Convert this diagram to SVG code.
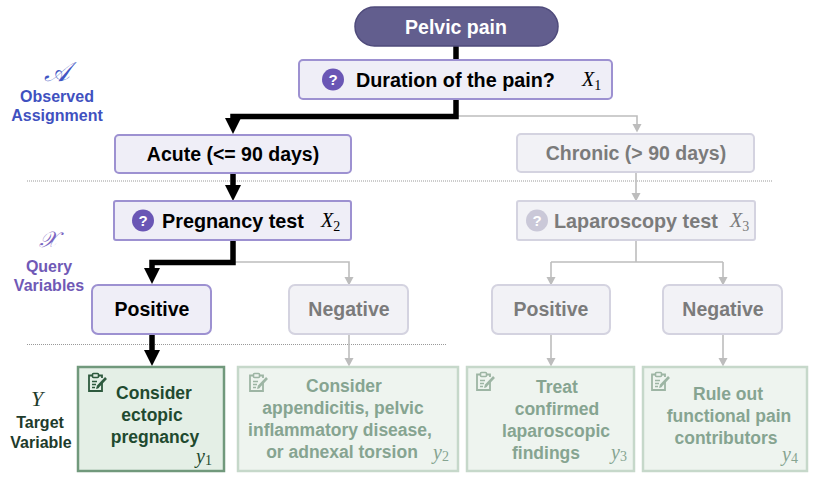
<svg xmlns="http://www.w3.org/2000/svg" width="820" height="483" viewBox="0 0 820 483">
<defs>
<style>
.t{font-family:"Liberation Sans",Arial,sans-serif;font-weight:bold;}
.n{font-size:19.5px;text-anchor:middle;}
.dark{fill:#000;}
.grey{fill:#7b7b7b;}
.act{fill:#efeef7;stroke:#9d91d1;stroke-width:2;}
.ina{fill:#f2f2f6;stroke:#d4d3e0;stroke-width:2;}
.ya{fill:#e4efe6;stroke:#71997c;stroke-width:2.5;}
.yi{fill:#eef4ef;stroke:#c6d8ca;stroke-width:2.5;}
.yt{font-size:17.5px;text-anchor:middle;}
.ytd{fill:#1f4a2f;}
.yti{fill:#86a491;}
.m{font-family:"Liberation Serif","DejaVu Serif",serif;font-style:italic;}
.bk{fill:none;stroke:#000;stroke-width:5.5;stroke-linejoin:miter;}
.gy{fill:none;stroke:#bdbdbd;stroke-width:1.6;}
.dot{stroke:#999;stroke-width:1;stroke-dasharray:1 1;}
.lbl{font-size:16px;text-anchor:middle;}
</style>
<marker id="ab" markerUnits="userSpaceOnUse" markerWidth="16" markerHeight="16" refX="0" refY="8" orient="auto">
<path d="M0,0 L16,8 L0,16 z" fill="#000"/>
</marker>
<marker id="ag" markerUnits="userSpaceOnUse" markerWidth="9" markerHeight="10" refX="0" refY="5" orient="auto">
<path d="M0,0.5 L8.5,5 L0,9.5 z" fill="#bdbdbd"/>
</marker>
<g id="clip">
<path d="M4,2.5 H1 V18 H14 V10" fill="none" stroke-width="1.8"/>
<path d="M11,2.5 H14 V5" fill="none" stroke-width="1.8"/>
<rect x="4.5" y="0.5" width="6" height="4" rx="1" fill="none" stroke-width="1.6"/>
<path d="M4,8.5 H9 M4,11.5 H8 M4,14.5 H7" fill="none" stroke-width="1.5"/>
<path d="M9.5,14 L18,5" fill="none" stroke-width="2.6"/>
<path d="M8.5,15.5 L9.3,13.2 L10.8,14.7 z" stroke-width="0.8"/>
</g>
</defs>

<rect width="820" height="483" fill="#fff"/>

<!-- dotted separators -->
<line class="dot" x1="27" y1="181" x2="773" y2="181"/>
<line class="dot" x1="27" y1="344.5" x2="447" y2="344.5"/>

<!-- left labels -->
<g id="label-observed">
<text x="57" y="81" class="m" font-size="27" fill="#4257c4" text-anchor="middle">𝒜</text>
<text x="57" y="102" class="t lbl" fill="#3f51c0">Observed</text>
<text x="57" y="121" class="t lbl" fill="#3f51c0">Assignment</text>
</g>
<g id="label-query">
<text x="48" y="247" class="m" font-size="22" fill="#7a66c2" text-anchor="middle">𝒳</text>
<text x="49" y="272" class="t lbl" fill="#7059b6">Query</text>
<text x="49" y="291" class="t lbl" fill="#7059b6">Variables</text>
</g>
<g id="label-target">
<text x="37" y="406" class="m" font-size="22" fill="#1e3b2b" text-anchor="middle">Y</text>
<text x="40" y="428" class="t lbl" fill="#1e3b2b">Target</text>
<text x="41" y="448" class="t lbl" fill="#1e3b2b">Variable</text>
</g>

<!-- connectors -->
<g id="connectors">
<path class="gy" d="M456,116 H637 V124" marker-end="url(#ag)"/>
<path class="gy" d="M636,172 V193" marker-end="url(#ag)"/>
<path class="gy" d="M233,262 H349 V277" marker-end="url(#ag)"/>
<path class="gy" d="M636,240 V262"/>
<path class="gy" d="M551,262 H723"/>
<path class="gy" d="M551,262 V277" marker-end="url(#ag)"/>
<path class="gy" d="M723,262 V277" marker-end="url(#ag)"/>
<path class="gy" d="M349,334 V358" marker-end="url(#ag)"/>
<path class="gy" d="M551,334 V358" marker-end="url(#ag)"/>
<path class="gy" d="M723,334 V358" marker-end="url(#ag)"/>
<path class="bk" d="M456,46 V60"/>
<path class="bk" d="M456,99 V116.5 H233 V118" marker-end="url(#ab)"/>
<path class="bk" d="M233,173 V185" marker-end="url(#ab)"/>
<path class="bk" d="M233,240 V262.5 H152 V268" marker-end="url(#ab)"/>
<path class="bk" d="M152,334 V350" marker-end="url(#ab)"/>
</g>

<!-- nodes -->
<g id="pelvic-pain">
<rect x="355" y="7" width="203" height="39" rx="19.5" fill="#625e8e" stroke="#4f4b7b" stroke-width="1.5"/>
<text x="456" y="33.5" class="t n" fill="#fff">Pelvic pain</text>
</g>

<g id="duration">
<rect x="299" y="60" width="313" height="39" rx="4" class="act"/>
<circle cx="333" cy="79.5" r="11" fill="#6a56b5"/>
<text x="333" y="85" class="t" font-size="15" fill="#fff" text-anchor="middle">?</text>
<text x="356" y="86.5" class="t" font-size="19.8" fill="#000">Duration of the pain?</text>
<text x="582" y="86" class="m" font-size="20" fill="#000">X<tspan font-size="14" dy="4" font-style="normal">1</tspan></text>
</g>

<g id="acute">
<rect x="115" y="135" width="236" height="38" rx="4" class="act" stroke="#a99dd8"/>
<text x="233" y="161" class="t n dark">Acute (&lt;= 90 days)</text>
</g>

<g id="chronic">
<rect x="517" y="134" width="237" height="38" rx="4" class="ina"/>
<text x="636" y="160" class="t n grey">Chronic (&gt; 90 days)</text>
</g>

<g id="pregnancy-test">
<rect x="114" y="201" width="237" height="39" rx="2" class="act"/>
<circle cx="143" cy="220.5" r="11" fill="#6a56b5"/>
<text x="143" y="226" class="t" font-size="15" fill="#fff" text-anchor="middle">?</text>
<text x="162" y="227.5" class="t" font-size="19.8" fill="#000">Pregnancy test</text>
<text x="321" y="227" class="m" font-size="20" fill="#000">X<tspan font-size="14" dy="4" font-style="normal">2</tspan></text>
</g>

<g id="laparoscopy-test">
<rect x="517" y="201" width="238" height="39" rx="2" class="ina"/>
<circle cx="537" cy="220.5" r="11" fill="#cac8d8"/>
<text x="537" y="226" class="t" font-size="15" fill="#fff" text-anchor="middle">?</text>
<text x="554" y="227.5" class="t" font-size="19.8" fill="#7b7b7b">Laparoscopy test</text>
<text x="730" y="227" class="m" font-size="20" fill="#7b7b7b">X<tspan font-size="14" dy="4" font-style="normal">3</tspan></text>
</g>

<g id="preg-positive">
<rect x="92" y="285" width="119" height="49" rx="6" class="act"/>
<text x="152" y="316" class="t n dark">Positive</text>
</g>
<g id="preg-negative">
<rect x="289" y="285" width="119" height="49" rx="6" class="ina"/>
<text x="349" y="316" class="t n grey">Negative</text>
</g>
<g id="lap-positive">
<rect x="492" y="285" width="118" height="49" rx="6" class="ina"/>
<text x="551" y="316" class="t n grey">Positive</text>
</g>
<g id="lap-negative">
<rect x="663" y="285" width="119" height="49" rx="6" class="ina"/>
<text x="723" y="316" class="t n grey">Negative</text>
</g>

<g id="y1">
<rect x="78" y="367" width="146" height="104" class="ya"/>
<use href="#clip" x="88" y="373" stroke="#2e5a3e" fill="#2e5a3e"/>
<text class="t yt ytd"><tspan x="154" y="399">Consider</tspan><tspan x="152" y="421">ectopic</tspan><tspan x="155" y="443">pregnancy</tspan></text>
<text x="196" y="463" class="m" font-size="20" fill="#1f4a2f">y<tspan font-size="14" dy="2" font-style="normal">1</tspan></text>
</g>

<g id="y2">
<rect x="238" y="367" width="220" height="104" class="yi"/>
<use href="#clip" x="249" y="373" stroke="#9db5a4" fill="#9db5a4"/>
<text class="t yt yti"><tspan x="344" y="392">Consider</tspan><tspan x="343" y="414">appendicitis, pelvic</tspan><tspan x="340" y="436">inflammatory disease,</tspan><tspan x="342" y="458">or adnexal torsion</tspan></text>
<text x="433" y="459" class="m" font-size="20" fill="#86a491">y<tspan font-size="14" dy="2" font-style="normal">2</tspan></text>
</g>

<g id="y3">
<rect x="467" y="367" width="167" height="104" class="yi"/>
<use href="#clip" x="476" y="372" stroke="#9db5a4" fill="#9db5a4"/>
<text class="t yt yti"><tspan x="557" y="393">Treat</tspan><tspan x="557" y="415">confirmed</tspan><tspan x="556" y="437">laparoscopic</tspan><tspan x="546" y="459">findings</tspan></text>
<text x="611" y="459" class="m" font-size="20" fill="#86a491">y<tspan font-size="14" dy="2" font-style="normal">3</tspan></text>
</g>

<g id="y4">
<rect x="643" y="367" width="164" height="104" class="yi"/>
<use href="#clip" x="651" y="372" stroke="#9db5a4" fill="#9db5a4"/>
<text class="t yt yti"><tspan x="728" y="400">Rule out</tspan><tspan x="729" y="422">functional pain</tspan><tspan x="726" y="444">contributors</tspan></text>
<text x="782" y="461" class="m" font-size="20" fill="#86a491">y<tspan font-size="14" dy="2" font-style="normal">4</tspan></text>
</g>
</svg>
